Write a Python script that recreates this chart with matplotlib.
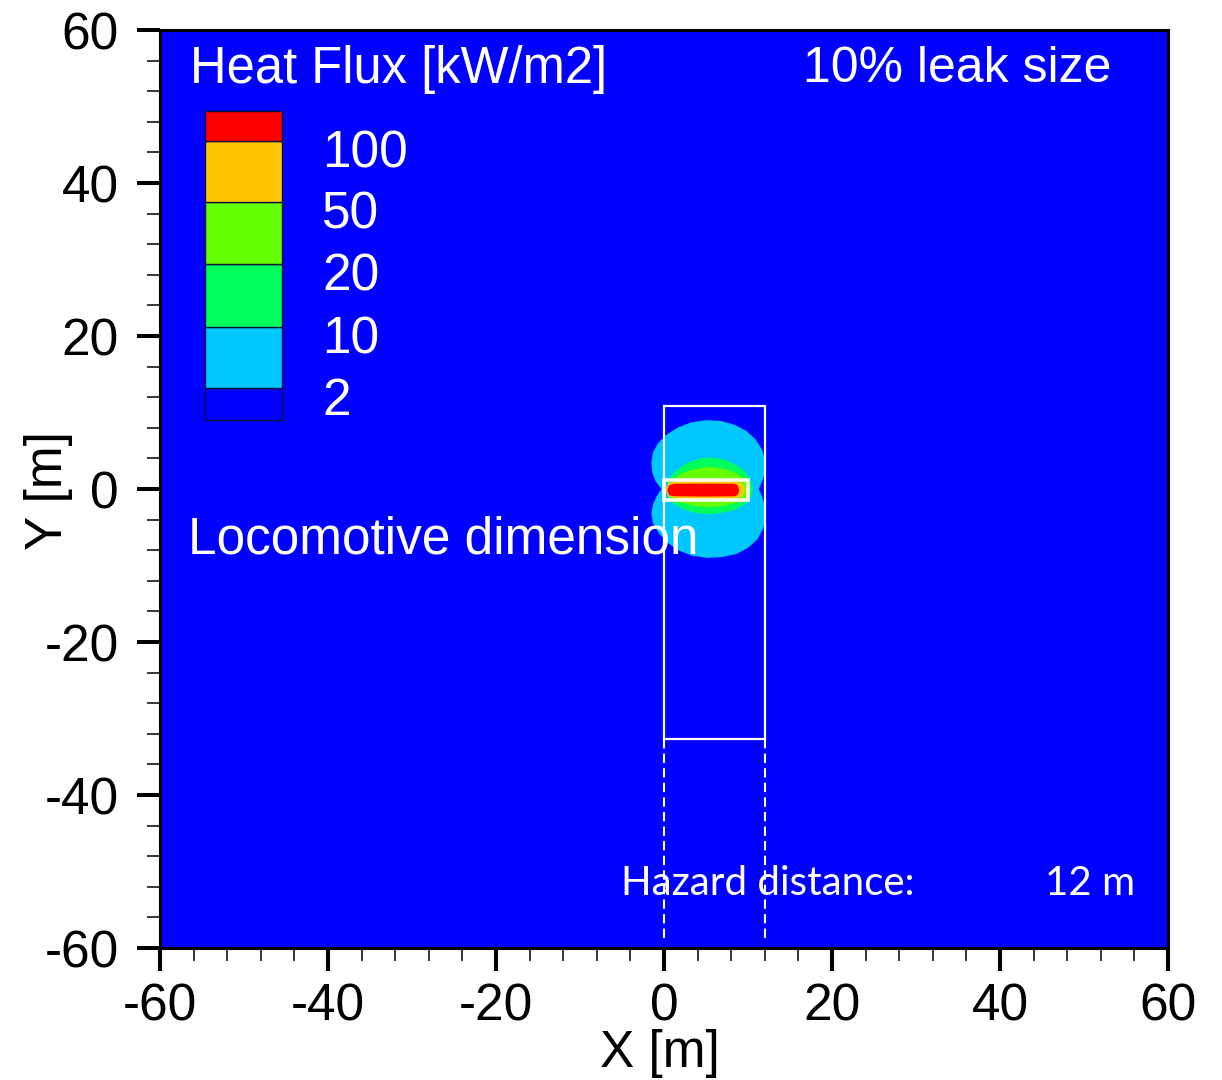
import matplotlib
matplotlib.use("Agg")
import matplotlib.pyplot as plt
from matplotlib.patches import Rectangle
from matplotlib.ticker import MultipleLocator

plt.rcParams['font.family'] = ['Liberation Sans', 'DejaVu Sans']
plt.rcParams['axes.unicode_minus'] = False

# contour levels [kW/m2] and band colours (below 2 ... above 100)
levels = [2, 10, 20, 50, 100]
level_colors = ['#0000ff', '#00c8ff', '#00ff5a', '#66ff00', '#ffc800', '#ff0000']

# outlines of the heat flux iso-lines, x and y in m
q2_x = [-0.3, -1.0, -1.4, -1.5, -1.3, -0.7, 0.3, 1.6, 3.2, 5.0, 6.8, 8.4, 9.8, 10.9, 11.7, 12.1, 12.0, 11.7, 11.3,
        11.7, 12.0, 12.1, 11.8, 11.1, 10.0, 8.6, 6.9, 5.1, 3.3, 1.7, 0.4, -0.6, -1.3, -1.5, -1.3, -0.9]
q2_y = [0.0, 1.0, 2.2, 3.5, 4.8, 6.0, 7.1, 8.0, 8.7, 9.0, 8.9, 8.4, 7.6, 6.5, 5.1, 3.6, 2.2, 1.0, 0.0,
        -1.0, -2.2, -3.7, -5.2, -6.6, -7.7, -8.5, -8.9, -9.0, -8.7, -8.0, -7.0, -5.8, -4.5, -3.2, -2.0, -1.0]

q10_x = [0.3, 0.6, 1.5, 2.9, 4.4, 5.8, 7.3, 8.7, 9.8, 10.4, 10.6, 10.4, 9.7, 8.5, 7.0, 5.3, 3.6, 2.2, 1.1, 0.5]
q10_y = [0.0, 1.3, 2.5, 3.5, 4.0, 4.1, 3.8, 3.1, 2.1, 1.0, 0.0, -1.0, -1.9, -2.7, -3.1, -3.3, -3.1, -2.6, -1.9, -1.0]

q20_x = [0.6, 1.0, 2.0, 3.5, 5.5, 7.4, 8.9, 9.9, 10.2, 9.9, 8.9, 7.3, 5.3, 3.4, 1.9, 1.0]
q20_y = [0.0, 1.1, 2.0, 2.6, 2.9, 2.6, 1.9, 1.0, 0.0, -1.0, -1.7, -2.2, -2.4, -2.2, -1.7, -1.0]

q50_x = [0.2, 0.5, 2.0, 5.0, 8.0, 9.3, 9.7, 9.3, 8.0, 5.0, 2.0, 0.5]
q50_y = [-0.1, 0.8, 1.05, 1.1, 1.05, 0.8, -0.1, -1.0, -1.25, -1.3, -1.25, -1.0]

q100_x = [0.4, 0.6, 1.2, 5.0, 8.4, 8.8, 8.95, 8.8, 8.4, 5.0, 1.2, 0.6]
q100_y = [-0.15, 0.5, 0.68, 0.7, 0.68, 0.45, -0.15, -0.75, -0.95, -0.98, -0.95, -0.8]

# locomotive footprint and hazard zone [m]
loco_x = [0.0, 10.0]
loco_y = [-1.5, 1.2]
hazard_distance = 12
hazard_y = [-32.7, 10.8]

fig = plt.figure(figsize=(12.22, 10.8), dpi=100)
ax = fig.add_axes([0.1309, 0.1222, 0.8249, 0.85])
ax.set_facecolor(level_colors[0])
ax.set_xlim(-60, 60)
ax.set_ylim(-60, 60)

outlines = [(q2_x, q2_y), (q10_x, q10_y), (q20_x, q20_y), (q50_x, q50_y), (q100_x, q100_y)]
for (xs, ys), c in zip(outlines, level_colors[1:]):
    ax.fill(xs, ys, color=c, lw=0, zorder=2)

ax.add_patch(Rectangle((loco_x[0], loco_y[0]), loco_x[1] - loco_x[0], loco_y[1] - loco_y[0],
                       fill=False, ec='#fbfbe6', lw=2.6, zorder=4))
ax.add_patch(Rectangle((0, hazard_y[0]), hazard_distance, hazard_y[1] - hazard_y[0],
                       fill=False, ec='white', lw=1.6, zorder=4))
for xv in [0, hazard_distance]:
    ax.plot([xv, xv], [hazard_y[0], -59], color='white', lw=1.5, ls=(0, (4.5, 2.5)), zorder=4)

# legend
leg_x0, leg_w = -54.6, 9.1
leg_edges = [9.0, 13.2, 21.2, 29.4, 37.5, 45.5, 49.4]
for i, c in enumerate(level_colors):
    ax.add_patch(Rectangle((leg_x0, leg_edges[i]), leg_w, leg_edges[i + 1] - leg_edges[i],
                           fc=c, ec='#10103a', lw=1.0, zorder=5))
for lev, yb in zip(levels, leg_edges[1:]):
    ax.text(-40.7, yb - 3.5, str(lev), color='white', fontsize=37, ha='left', va='baseline', zorder=6)

ax.text(-56.4, 53.1, 'Heat Flux [kW/m2]', color='white', fontsize=36.5, ha='left', va='baseline', zorder=6)
ax.text(16.5, 53.2, '10% leak size', color='white', fontsize=36, ha='left', va='baseline', zorder=6)
ax.text(-56.7, -8.4, 'Locomotive dimension', color='white', fontsize=37, ha='left', va='baseline', zorder=6)
ax.text(-5.1, -53.1, 'Hazard distance:', color='white', fontsize=29, family=['Lato', 'DejaVu Sans'],
        ha='left', va='baseline', zorder=6)
ax.text(45.4, -53.1, f'{hazard_distance} m', color='white', fontsize=29, family=['Lato', 'DejaVu Sans'],
        ha='left', va='baseline', zorder=6)

ax.xaxis.set_major_locator(MultipleLocator(20))
ax.yaxis.set_major_locator(MultipleLocator(20))
ax.xaxis.set_minor_locator(MultipleLocator(4))
ax.yaxis.set_minor_locator(MultipleLocator(4))
ax.tick_params(which='major', direction='out', length=16.5, width=2.9, labelsize=37, color='black')
ax.tick_params(axis='x', which='major', pad=8)
ax.tick_params(axis='y', which='major', pad=13)
ax.tick_params(which='minor', direction='out', length=9.4, width=1.1)
for sp in ax.spines.values():
    sp.set_linewidth(2.2)
    sp.set_color('black')

fig.text(0.5401, 0.025, 'X [m]', fontsize=37, ha='center', va='center')
fig.text(0.040, 0.546, 'Y [m]', fontsize=37, rotation=90, ha='center', va='center')

fig.savefig('out.png', dpi=100, facecolor='white')
